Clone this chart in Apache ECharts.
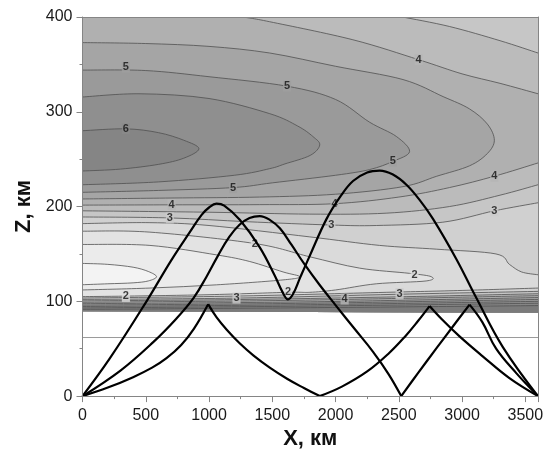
<!DOCTYPE html>
<html><head><meta charset="utf-8">
<script src="https://cdn.jsdelivr.net/npm/echarts@6/dist/echarts.min.js"></script>
<style>html,body{margin:0;padding:0;background:#fff}#c{width:547px;height:455px}</style>
</head><body><div id="c"></div>
<script>
// ---------- data ----------
const xRange = [0, 3600];
const zRange = [0, 400];
const fieldBottom = [[0, 89.5], [3600, 88]];
const grayLineZ = 61.8;

// contour lines of the upper field (x km, z km)
const c1   = [[0,140],[200,139],[400,136],[520,131.5],[585,126],[520,121.5],[400,119.5],[200,118.5],[0,117.5]];
const c15  = [[0,160],[533,159],[1059,149],[1322,142],[1585,131],[1716,126],[1585,122.6],[1059,117.4],[533,114],[0,112]];
const c2   = [[0,174],[533,173],[1361,161],[1796,147],[2191,135],[2585,129.5],[2756,126],[2716,121.5],[2322,118.5],[2000,112],[1796,109.5],[1624,109.5],[1000,107],[343,105.5],[0,105]];
const c25  = [[0,182],[533,183],[1000,180],[1796,168],[2348,159],[2800,155],[3268,150],[3374,139],[3470,131],[3600,128]];
const c3   = [[0,189],[690,188],[1300,184],[1967,180.5],[2322,180],[2848,183.5],[3255,195.5],[3600,204]];
const c35lo= [[0,195.5],[1000,194],[1796,192],[2400,193],[2900,200],[3300,212],[3600,223]];
const c35up= [[2530,400],[2900,390],[3300,375],[3600,362]];
const c4lo = [[0,201.5],[704,201.8],[1400,202],[1993,203],[2500,210],[2900,220],[3255,232],[3600,246]];
const c4up = [[1268,400],[1480,395],[2137,376],[2656,355],[3000,340],[3300,330],[3600,319]];
const c45  = [[0,373],[500,372],[1000,369],[1480,362],[2000,348],[2533,334],[2850,316],[3059,303],[3200,287],[3255,270],[3200,256],[3059,243],[2800,232],[2533,221],[2000,213],[1400,210],[700,209],[0,208]];
const c5   = [[0,344],[500,343.5],[1000,337],[1617,327],[2000,313],[2269,289],[2480,274],[2585,258],[2453,247.6],[2269,239],[2000,233],[1500,225],[1190,220],[600,217],[0,215]];
const c55  = [[0,315.6],[455,319],[1000,314],[1480,298],[1700,285],[1820,274],[1875,265],[1800,254],[1600,245],[1480,240],[1200,233],[600,226],[0,223]];
const c6   = [[0,280],[343,282],[600,278],[800,270],[920,261],[800,251],[600,244.5],[300,239.5],[0,237.5]];
// contour lines of the lower dense band
const b25 = [[0,103.5],[1200,105.5],[2400,109.5],[3000,111.5],[3600,114]];
const b3  = [[0,102],[1217,103.4],[2506,107.5],[3600,110.5]];
const b35 = [[0,100.5],[1200,101.8],[2400,104.5],[3600,108]];
const b4  = [[0,99],[1200,100.3],[2072,102],[3600,106]];
const b45 = [[0,97.5],[1800,99.5],[3600,104]];
const b5  = [[0,96],[1800,98],[3600,102]];
const b55 = [[0,94.5],[1800,96.5],[3600,100]];
const b6  = [[0,93],[1800,95],[3600,98]];
const b65 = [[0,91.5],[1800,93.3],[3600,95.5]];

// contour labels
const labelText = ['6','5','5','4','3','5','4','5','4','3','4','3','2','2','2','3','4','3','2'];
const labelX    = [343,343,1190,704,690,1617,2656,2453,3255,3255,1993,1967,1361,1624,343,1217,2072,2506,2624];
const labelZ    = [282,347,220,202,188,327,355,248,232,195.5,202.4,181,161,110,105.2,103.4,102.4,108,128];

// ray paths
const ray1 = [[0,0],[217,40],[506,100],[700,143],[848,173],[940,191],[1000,199],[1059,203],[1120,201],[1243,186],[1401,157],[1520,127],[1580,110],[1624,102],[1665,108],[1720,125],[1796,148],[1929,187],[2040,211],[2138,227],[2250,236],[2348,238],[2450,234],[2560,223],[2664,207],[2770,187],[2953,145],[3111,104],[3321,52],[3600,0]];
const ray2 = [[0,0],[300,27],[559,57],[743,82],[880,104],[980,126],[1070,148],[1160,168],[1243,181],[1320,188],[1401,190],[1480,186],[1560,177],[1650,160],[1750,140],[1870,118],[2006,95],[2150,71],[2295,47],[2420,23],[2519,0],[2650,24],[2795,50],[2930,74],[3059,96.5],[3160,78],[3269,50],[3430,24],[3600,0]];
const ray3 = [[0,0],[200,9],[400,20],[550,30],[664,40],[780,54],[880,71],[993,97],[1060,83],[1140,70],[1240,56],[1350,43],[1480,30],[1620,18],[1750,8.5],[1875,0],[2050,10],[2250,26],[2420,45],[2550,63],[2650,79],[2743,95],[2840,81],[2980,63],[3163,42],[3374,19],[3600,0]];

// ---------- styles ----------
const LEVELS = [1,1.5,2,2.5,3,3.5,4,4.5,5,5.5,6,6.5];
const BASE_COLOR = '#f3f3f3';
const BAND_COLORS = ['#ebebeb','#e3e3e3','#dadada','#d0d0d0','#c6c6c6','#bbbbbb','#b0b0b0','#a5a5a5','#9a9a9a','#8f8f8f','#858585','#7b7b7b'];
const FONT = 'Liberation Sans, Arial, sans-serif';

function colorOf(lv){ const i = LEVELS.indexOf(lv); return i < 0 ? BASE_COLOR : BAND_COLORS[i]; }
function mix(a,b){ const pa=parseInt(a.slice(1),16), pb=parseInt(b.slice(1),16);
  const r=((pa>>16)+(pb>>16))>>1, g=(((pa>>8)&255)+((pb>>8)&255))>>1, bl=((pa&255)+(pb&255))>>1;
  return '#'+((1<<24)+(r<<16)+(g<<8)+bl).toString(16).slice(1); }
function rev(a){ return a.slice().reverse(); }

const X0 = xRange[0], X1 = xRange[1], ZT = zRange[1];
const BL = fieldBottom[0], BR = fieldBottom[1];
const frameAll = [[X0,ZT],[X1,ZT],BR,BL];

const regions = [
  {lv:null, p:[{s:[[X0,ZT],[X1,ZT],BR,BL]}]},
  {lv:1,   p:[{s:frameAll},{c:rev(c1)}]},
  {lv:1.5, p:[{s:frameAll},{c:rev(c15)}]},
  {lv:2,   p:[{s:frameAll},{c:rev(c2)}]},
  {lv:2.5, p:[{s:[[X0,ZT],[X1,ZT]]},{c:rev(c25)}]},
  {lv:2.5, p:[{c:b25},{s:[BR,BL]}]},
  {lv:3,   p:[{s:[[X0,ZT],[X1,ZT]]},{c:rev(c3)}]},
  {lv:3,   p:[{c:b3},{s:[BR,BL]}]},
  {lv:3.5, p:[{s:[[X0,ZT]]},{c:c35up},{c:rev(c35lo)}]},
  {lv:3.5, p:[{c:b35},{s:[BR,BL]}]},
  {lv:4,   p:[{s:[[X0,ZT]]},{c:c4up},{c:rev(c4lo)}]},
  {lv:4,   p:[{c:b4},{s:[BR,BL]}]},
  {lv:4.5, p:[{c:c45}]},
  {lv:4.5, p:[{c:b45},{s:[BR,BL]}]},
  {lv:5,   p:[{c:c5}]},
  {lv:5,   p:[{c:b5},{s:[BR,BL]}]},
  {lv:5.5, p:[{c:c55}]},
  {lv:5.5, p:[{c:b55},{s:[BR,BL]}]},
  {lv:6,   p:[{c:c6}]},
  {lv:6,   p:[{c:b6},{s:[BR,BL]}]},
  {lv:6.5, p:[{c:b65},{s:[BR,BL]}]}
];
const contourLines = [c1,c15,c2,c25,c3,c35lo,c35up,c4lo,c4up,c45,c5,c55,c6,b25,b3,b35,b4,b45,b5,b55,b6,b65];

function f(n){ return n.toFixed(2); }
function catmull(p){
  let d='';
  for(let i=0;i<p.length-1;i++){
    const p0=p[i-1]||p[i], p1=p[i], p2=p[i+1], p3=p[i+2]||p[i+1];
    const a1=p1[0]+(p2[0]-p0[0])/6, b1=p1[1]+(p2[1]-p0[1])/6;
    const a2=p2[0]-(p3[0]-p1[0])/6, b2=p2[1]-(p3[1]-p1[1])/6;
    d+='C'+f(a1)+' '+f(b1)+' '+f(a2)+' '+f(b2)+' '+f(p2[0])+' '+f(p2[1])+' ';
  }
  return d;
}
function buildPath(pieces, api, close){
  let d='', started=false;
  for(const pc of pieces){
    const pts=(pc.s||pc.c).map(q=>api.coord(q));
    if(pc.s){ for(const q of pts){ d+=(started?'L':'M')+f(q[0])+' '+f(q[1])+' '; started=true; } }
    else { d+=(started?'L':'M')+f(pts[0][0])+' '+f(pts[0][1])+' '; started=true; d+=catmull(pts); }
  }
  if(close) d+='Z';
  return d;
}
// split a ray into arms at ground bounces and at the sharp reflections below the layer
function splitArms(r){
  const arms=[]; let cur=[r[0]];
  for(let i=1;i<r.length;i++){
    cur.push(r[i]);
    if(i<r.length-1){
      const ground = r[i][1]===0;
      const cusp = r[i][1] < 120 && r[i][1] > r[i-1][1] && r[i][1] > r[i+1][1];
      if(ground || cusp){ arms.push(cur); cur=[r[i]]; }
    }
  }
  arms.push(cur); return arms;
}

const series = [];
series.push({
  type:'custom', coordinateSystem:'cartesian2d', silent:true, clip:true, z:1,
  data: regions.map((r,i)=>[i,0]),
  renderItem:(params, api)=>{
    const r = regions[params.dataIndex];
    return {type:'path', shape:{pathData: buildPath(r.p, api, true)}, style:{fill: colorOf(r.lv), stroke:null, lineWidth:0}};
  }
});
series.push({
  type:'custom', coordinateSystem:'cartesian2d', silent:true, clip:true, z:2,
  data: contourLines.map((r,i)=>[i,0]),
  renderItem:(params, api)=>{
    const l = contourLines[params.dataIndex];
    return {type:'path', shape:{pathData: buildPath([{c:l}], api, false)}, style:{fill:'none', stroke:'#505050', lineWidth:0.8}};
  }
});
series.push({
  type:'line', silent:true, z:2, showSymbol:false, symbol:'none',
  data:[[X0,grayLineZ],[X1,grayLineZ]], lineStyle:{color:'#9a9a9a', width:1}
});
series.push({
  type:'scatter', silent:true, z:3, symbolSize:0,
  data: labelText.map((t,i)=>{
    const lv=+t; return {value:[labelX[i],labelZ[i],t], label:{backgroundColor: mix(colorOf(lv), colorOf(lv-0.5))}};
  }),
  label:{show:true, position:'inside', formatter:p=>p.value[2], fontSize:11, fontWeight:'bold', fontFamily:FONT, color:'#111', padding:[0,1], lineHeight:11}
});
[ray1, ray2, ray3].forEach(r=>{
  splitArms(r).forEach(arm=>{
    series.push({type:'line', silent:true, z:4, showSymbol:false, symbol:'none', smooth:0.4,
      data:arm, lineStyle:{color:'#000', width:2.2, join:'round'}});
  });
});

const axisCol = '#858585';
const chart = echarts.init(document.getElementById('c'), null, {renderer:'canvas'});
chart.setOption({
  animation:false,
  backgroundColor:'#fff',
  grid:{left:82.5, right:9, top:17, bottom:54, show:false},
  xAxis:[{
    type:'value', min:xRange[0], max:xRange[1], interval:500, z:10,
    axisLine:{show:true, onZero:false, lineStyle:{color:axisCol, width:1}},
    axisTick:{show:true, inside:false, length:6, lineStyle:{color:axisCol}},
    minorTick:{show:true, splitNumber:2, length:3, lineStyle:{color:axisCol}},
    splitLine:{show:false},
    axisLabel:{fontSize:16, color:'#1a1a1a', fontFamily:FONT, margin:11, showMaxLabel:false,
      formatter:v=>(v>=3600?'':String(v))},
    name:'X, км', nameLocation:'middle', nameGap:22,
    nameTextStyle:{fontSize:22, fontWeight:'bold', color:'#111', fontFamily:FONT}
  },{
    type:'value', position:'top', min:xRange[0], max:xRange[1], z:10,
    axisLine:{show:true, onZero:false, lineStyle:{color:axisCol, width:1}},
    axisTick:{show:false}, axisLabel:{show:false}, splitLine:{show:false}
  }],
  yAxis:[{
    type:'value', min:zRange[0], max:zRange[1], interval:100, z:10,
    axisLine:{show:true, onZero:false, lineStyle:{color:axisCol, width:1}},
    axisTick:{show:true, inside:false, length:6, lineStyle:{color:axisCol}},
    minorTick:{show:true, splitNumber:2, length:3, lineStyle:{color:axisCol}},
    splitLine:{show:false},
    axisLabel:{fontSize:16, color:'#1a1a1a', fontFamily:FONT, margin:10, formatter:v=>String(v)},
    name:'Z, км', nameLocation:'middle', nameGap:44, nameRotate:90,
    nameTextStyle:{fontSize:22, fontWeight:'bold', color:'#111', fontFamily:FONT}
  },{
    type:'value', position:'right', min:zRange[0], max:zRange[1], z:10,
    axisLine:{show:true, onZero:false, lineStyle:{color:axisCol, width:1}},
    axisTick:{show:false}, axisLabel:{show:false}, splitLine:{show:false}
  }],
  series: series
});
</script></body></html>
